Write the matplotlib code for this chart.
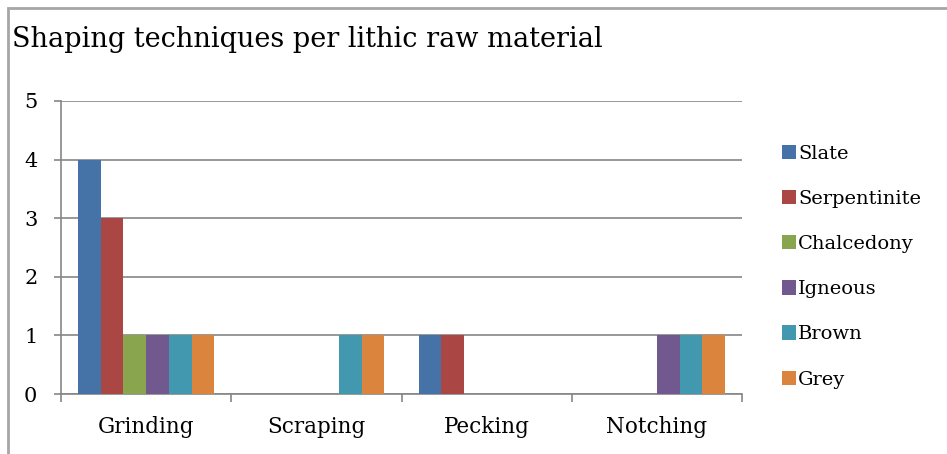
import numpy as np
import matplotlib
matplotlib.use("Agg")
import matplotlib.pyplot as plt
from matplotlib.patches import Rectangle, Patch

categories = ["Grinding", "Scraping", "Pecking", "Notching"]
materials = ["Slate", "Serpentinite", "Chalcedony", "Igneous", "Brown", "Grey"]
slate = [4, 0, 1, 0]
serpentinite = [3, 0, 1, 0]
chalcedony = [1, 0, 0, 0]
igneous = [1, 0, 0, 1]
brown = [1, 1, 0, 1]
grey = [1, 1, 0, 1]
series = [slate, serpentinite, chalcedony, igneous, brown, grey]
colors = ["#4572A7", "#AA4643", "#89A54E", "#71588F", "#4198AF", "#DB843D"]

plt.rcParams['font.family'] = ['DejaVu Serif']

fig = plt.figure(figsize=(9.47, 4.54), dpi=100)
ax = fig.add_axes([61 / 947, 1 - 394 / 454, (742 - 61) / 947, (394 - 101) / 454])

# chart border (top + left visible)
fig.patches.append(Rectangle((8 / 947, -0.1), 1.2, 1.1 - 8 / 454, transform=fig.transFigure,
                             fill=False, edgecolor="#a6a6a6", linewidth=2, zorder=0))

n = len(series)
bw = 1.0 / (n + 1.5)
x = np.arange(len(categories))
for i, (vals, c) in enumerate(zip(series, colors)):
    ax.bar(x - n * bw / 2 + (i + 0.5) * bw, vals, width=bw, color=c, zorder=3)

ax.set_xlim(-0.5, len(categories) - 0.5)
ax.set_ylim(0, 5)
ax.set_yticks(range(6))
ax.yaxis.grid(True, color="#868686", linewidth=1.2, zorder=0)
ax.set_xticks(x)
ax.set_xticklabels(categories, fontsize=15.5)
ax.set_xticks(np.arange(len(categories) + 1) - 0.5, minor=True)
ax.tick_params(axis="x", which="major", length=0, pad=16)
ax.tick_params(axis="x", which="minor", length=6, color="#868686", width=1.2)
ax.tick_params(axis="y", length=5, color="#868686", width=1.2, labelsize=15, pad=12)
for s in ["top", "right"]:
    ax.spines[s].set_visible(False)
for s in ["left", "bottom"]:
    ax.spines[s].set_color("#868686")
    ax.spines[s].set_linewidth(1.2)

fig.text(12 / 947, 1 - 47 / 454, "Shaping techniques per lithic raw material", fontsize=19.5)

handles = [Patch(facecolor=c, label=m) for m, c in zip(materials, colors)]
fig.legend(handles=handles, loc="upper left", bbox_to_anchor=(764 / 947, 1 - 127 / 454),
           frameon=False, fontsize=14, handlelength=0.75, handleheight=0.75,
           handletextpad=0.1, labelspacing=1.4)

fig.savefig("out.png", dpi=100)
